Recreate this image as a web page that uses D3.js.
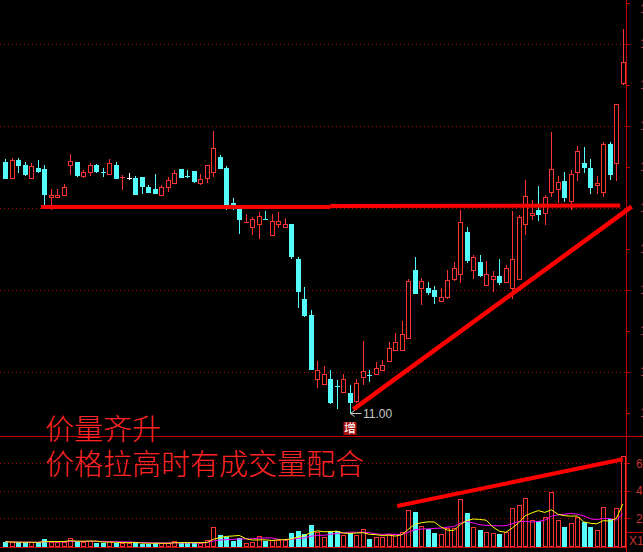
<!DOCTYPE html>
<html><head><meta charset="utf-8">
<script src="https://cdn.jsdelivr.net/npm/d3@7"></script>
<style>html,body{margin:0;padding:0;background:#000;overflow:hidden}svg{display:block}</style>
</head><body><svg id="c" width="643" height="552"></svg>
<script>
// ---- data ----
const opens = [14.06,13.87,14.09,14.02,13.86,13.99,13.98,13.63,13.64,13.66,
14.02,14.06,13.89,13.94,14.02,13.94,13.91,14.02,13.87,13.87,
13.87,13.88,13.76,13.73,13.66,13.76,13.80,13.98,13.89,13.95,
13.81,13.86,13.94,14.12,13.99,13.56,13.49,13.32,13.27,13.31,
13.37,13.17,13.30,13.27,13.30,12.88,12.39,12.20,11.42,11.35,
11.42,11.33,11.26,11.24,11.15,11.44,11.46,11.47,11.52,11.63,
11.77,11.77,11.92,12.74,12.53,12.52,12.50,12.36,12.42,12.64,
12.70,13.21,12.74,12.84,12.56,12.63,12.67,12.60,12.52,12.64,
13.31,13.41,13.48,13.44,13.69,13.73,13.83,13.59,13.94,14.05,
13.99,13.78,13.69,14.28,14.05,15.03];
const highs = [14.10,14.11,14.11,14.06,14.05,14.09,14.02,13.73,13.73,13.79,
14.16,14.06,13.96,14.05,14.04,13.99,14.10,14.06,13.90,13.93,
13.89,13.88,13.78,13.91,13.78,13.88,13.96,13.98,13.96,13.95,
13.91,14.02,14.44,14.15,14.01,13.62,13.49,13.43,13.39,13.45,
13.46,13.43,13.45,13.38,13.31,12.90,12.54,12.26,11.63,11.57,
11.52,11.40,11.47,11.34,11.41,11.88,11.52,11.62,11.65,11.86,
11.97,12.12,12.63,12.90,12.65,12.60,12.55,12.53,12.74,12.84,
13.48,13.27,12.93,12.93,12.85,12.73,12.88,12.80,13.46,13.41,
13.84,13.60,13.77,13.66,14.43,13.89,13.94,13.96,14.25,14.24,
14.10,13.89,14.30,14.30,14.77,15.68];
const lows = [13.87,13.87,13.93,13.89,13.86,13.93,13.52,13.48,13.63,13.66,
13.90,13.88,13.87,13.89,13.93,13.88,13.91,13.86,13.72,13.84,
13.66,13.67,13.69,13.68,13.66,13.69,13.80,13.86,13.87,13.81,
13.78,13.81,13.88,13.98,13.48,13.48,13.18,13.32,13.17,13.12,
13.35,13.17,13.26,13.27,12.88,12.28,12.17,11.53,11.31,11.35,
11.11,11.05,11.26,11.00,11.12,11.34,11.38,11.47,11.52,11.63,
11.77,11.77,11.90,12.45,12.32,12.44,12.33,12.36,12.39,12.61,
12.59,12.83,12.63,12.66,12.55,12.48,12.56,12.60,12.39,12.62,
13.17,13.35,13.34,13.29,13.64,13.56,13.57,13.48,13.83,13.93,
13.67,13.67,13.63,13.84,13.83,15.00];
const closes = [13.87,14.09,14.02,13.91,14.01,13.95,13.67,13.66,13.66,13.76,
14.07,13.90,13.94,14.02,13.95,13.93,14.05,13.87,13.88,13.87,
13.67,13.77,13.70,13.68,13.76,13.84,13.93,13.88,13.88,13.83,
13.85,14.02,14.23,13.99,13.54,13.54,13.37,13.33,13.37,13.40,
13.36,13.34,13.34,13.30,12.91,12.49,12.20,11.54,11.52,11.48,
11.14,11.32,11.41,11.14,11.36,11.51,11.45,11.55,11.59,11.79,
11.87,11.96,12.61,12.46,12.61,12.48,12.43,12.41,12.62,12.77,
13.33,12.87,12.90,12.68,12.70,12.67,12.60,12.77,12.88,13.39,
13.65,13.44,13.43,13.63,13.98,13.82,13.63,13.91,14.20,14.00,
13.76,13.80,14.28,13.91,14.77,15.28];
const volumes = [0.3,0.25,0.25,0.25,0.25,0.25,0.5,0.3,0.25,0.25,
0.55,0.35,0.25,0.35,0.2,0.2,0.35,0.2,0.2,0.2,
0.25,0.15,0.15,0.2,0.2,0.2,0.35,0.2,0.2,0.2,
0.2,0.4,1.37,0.8,0.64,0.35,0.6,0.2,0.3,0.7,
0.35,0.4,0.4,0.4,0.93,1.08,0.88,1.5,1.03,0.64,
1.08,1.08,0.8,0.93,0.75,1.22,0.5,0.64,0.64,0.88,
0.88,0.98,2.6,2.48,1.44,1.2,0.93,0.84,1.3,1.3,
3.38,2.38,1.37,1.17,1.0,0.9,0.86,0.98,2.72,2.94,
3.45,1.88,1.8,2.07,3.89,1.85,1.35,1.64,2.1,1.75,
1.35,1.15,2.8,1.95,2.72,6.53];
const priceGrid = [11.5,12.5,13.5,14.5,15.5];
const priceTicks = [11.0,11.5,12.0,12.5,13.0,13.5,14.0,14.5,15.0,15.5,16.0];
const volGrid = [2,4,6];
const volTickLabels = ["2","4","6"];
const lowIndex = 53, lowLabel = "11.00", markText = "增";
const notes = ["价量齐升","价格拉高时有成交量配合"];
// annotation lines: [index, value]
const flatLineA = [[5.5,13.512],[50.0,13.512]];
const flatLineB = [[50.0,13.524],[94.6,13.53]];
const riseLine = [[53.54,11.045],[96.37,13.516]];
const volLine = [[60.3,2.89],[95.0,6.29]];

// ---- drawing ----
const UP='#ff3232', DN='#54fcfc', GRID='#b00000', AX='#c80000', ANN='#ff0000';
const svg = d3.select('#c');
svg.append('rect').attr('width',643).attr('height',552).attr('fill','#000');
const n = closes.length;
const x = d3.scaleLinear().domain([0, n-1]).range([5.3, 622.8]);
const y = d3.scaleLinear().domain([11, 16]).range([413, 3]);
const yv = d3.scaleLinear().domain([0, 6]).range([545.8, 463.3]);
const cxOf = i => Math.round(x(i));

// grid
const g = svg.append('g').attr('shape-rendering','crispEdges');
g.selectAll('.pg').data(priceGrid).join('line')
  .attr('x1',0).attr('x2',626).attr('y1',d=>Math.round(y(d))+0.5).attr('y2',d=>Math.round(y(d))+0.5)
  .attr('stroke',GRID).attr('stroke-dasharray','1,3');
g.selectAll('.vg').data(volGrid).join('line')
  .attr('x1',0).attr('x2',626).attr('y1',d=>Math.round(yv(d))+0.5).attr('y2',d=>Math.round(yv(d))+0.5)
  .attr('stroke',GRID).attr('stroke-dasharray','1,3');

// axis lines
g.append('line').attr('x1',626.5).attr('x2',626.5).attr('y1',0).attr('y2',552).attr('stroke',AX);
g.append('line').attr('x1',0).attr('x2',643).attr('y1',436.5).attr('y2',436.5).attr('stroke',AX);
g.append('line').attr('x1',0).attr('x2',626).attr('y1',547.5).attr('y2',547.5).attr('stroke',AX);
g.append('line').attr('x1',626).attr('x2',643).attr('y1',532.5).attr('y2',532.5).attr('stroke',AX);
g.selectAll('.pt').data(priceTicks).join('line')
  .attr('x1',626).attr('x2',630).attr('y1',d=>Math.round(y(d))+0.5).attr('y2',d=>Math.round(y(d))+0.5).attr('stroke',AX);
g.selectAll('.vt').data(volGrid).join('line')
  .attr('x1',626).attr('x2',630).attr('y1',d=>Math.round(yv(d))+0.5).attr('y2',d=>Math.round(yv(d))+0.5).attr('stroke',AX);
svg.selectAll('.pl').data(priceTicks).join('text')
  .attr('x',640).attr('y',d=>Math.max(9,y(d))).attr('dy','0.35em')
  .attr('font-family','Liberation Sans').attr('font-size',12).attr('fill','#c83232')
  .text(d=>d.toFixed(2));
svg.selectAll('.vl').data(volGrid).join('text')
  .attr('x',636).attr('y',d=>yv(d)).attr('dy','0.35em')
  .attr('font-family','Liberation Sans').attr('font-size',12).attr('fill','#c83232')
  .text((d,i)=>volTickLabels[i]);
svg.append('text').attr('x',629).attr('y',545).attr('font-family','Liberation Sans')
  .attr('font-size',12).attr('fill','#c83232').text('X1');

// candles
const idx = d3.range(n);
const col = i => closes[i]>opens[i]?UP:(closes[i]<opens[i]?DN:'#ffffff');
const cg = svg.append('g').attr('shape-rendering','crispEdges');
cg.selectAll('.wick').data(idx).join('rect')
  .attr('x',i=>cxOf(i)).attr('width',1)
  .attr('y',i=>Math.round(y(highs[i])))
  .attr('height',i=>Math.max(1,Math.round(y(lows[i]))-Math.round(y(highs[i]))))
  .attr('fill',col);
idx.forEach(i=>{
  const cx = cxOf(i);
  const top = Math.round(y(Math.max(opens[i],closes[i])));
  const bot = Math.round(y(Math.min(opens[i],closes[i])));
  const c = col(i);
  if (bot-top < 2) {
    cg.append('rect').attr('x',cx-2).attr('width',5).attr('y',top).attr('height',Math.max(1,bot-top)).attr('fill',c);
  } else if (closes[i]>opens[i]) {
    cg.append('rect').attr('x',cx-1.5).attr('width',4).attr('y',top+0.5).attr('height',bot-top)
      .attr('fill','#000').attr('stroke',c);
  } else {
    cg.append('rect').attr('x',cx-2).attr('width',5).attr('y',top).attr('height',bot-top+1).attr('fill',c);
  }
});

// volume bars
idx.forEach(i=>{
  const cx = cxOf(i);
  const top = Math.round(yv(volumes[i]));
  const base = 546;
  if (closes[i]<opens[i]) {
    cg.append('rect').attr('x',cx-2).attr('width',5).attr('y',top).attr('height',base-top+1).attr('fill',DN);
  } else {
    cg.append('rect').attr('x',cx-1.5).attr('width',4).attr('y',top+0.5).attr('height',base-top)
      .attr('fill','none').attr('stroke',UP);
  }
});

// volume moving averages
function ma(k){ return idx.map(i=>d3.mean(volumes.slice(Math.max(0,i-k+1), i+1))); }
const lineV = d3.line().x((d,i)=>x(i)).y(d=>yv(d)).curve(d3.curveLinear);
svg.append('path').attr('d',lineV(ma(10))).attr('fill','none').attr('stroke','#ff00ff').attr('stroke-width',1);
svg.append('path').attr('d',lineV(ma(5))).attr('fill','none').attr('stroke','#ffff00').attr('stroke-width',1);

// annotation lines
const lp = d3.line().x(d=>x(d[0])).y(d=>y(d[1]));
const lvv = d3.line().x(d=>x(d[0])).y(d=>yv(d[1]));
[flatLineA, flatLineB].forEach(s=>svg.append('path').attr('d',lp(s)).attr('stroke',ANN).attr('stroke-width',4).attr('fill','none'));
svg.append('path').attr('d',lp(riseLine)).attr('stroke',ANN).attr('stroke-width',4.5).attr('fill','none');
svg.append('path').attr('d',lvv(volLine)).attr('stroke',ANN).attr('stroke-width',4).attr('fill','none');

// low marker
const lx = cxOf(lowIndex)+0.5, ly = Math.round(y(lows[lowIndex]))+0.5;
svg.append('path').attr('d',`M${lx},${ly}H${lx+11}M${lx},${ly}L${lx+4},${ly-3}M${lx},${ly}L${lx+4},${ly+3}`)
  .attr('stroke','#c8c8c8').attr('fill','none');
svg.append('text').attr('x',lx+12.5).attr('y',ly+4.5).attr('font-family','Liberation Sans')
  .attr('font-size',12).attr('fill','#c8c8c8').text(lowLabel);
svg.append('rect').attr('x',lx-7).attr('y',422).attr('width',13).attr('height',13).attr('fill','#a81010');
svg.append('text').attr('x',lx-0.5).attr('y',433).attr('text-anchor','middle')
  .attr('font-family','Noto Sans CJK SC').attr('font-size',12).attr('fill','#fff').text(markText);

// notes
svg.selectAll('.note').data(notes).join('text')
  .attr('x',45).attr('y',(d,i)=>[440,475][i])
  .attr('font-family','Noto Sans CJK SC').attr('font-weight',300).attr('font-size',29)
  .attr('fill','#ff2424').text(d=>d);
</script></body></html>
